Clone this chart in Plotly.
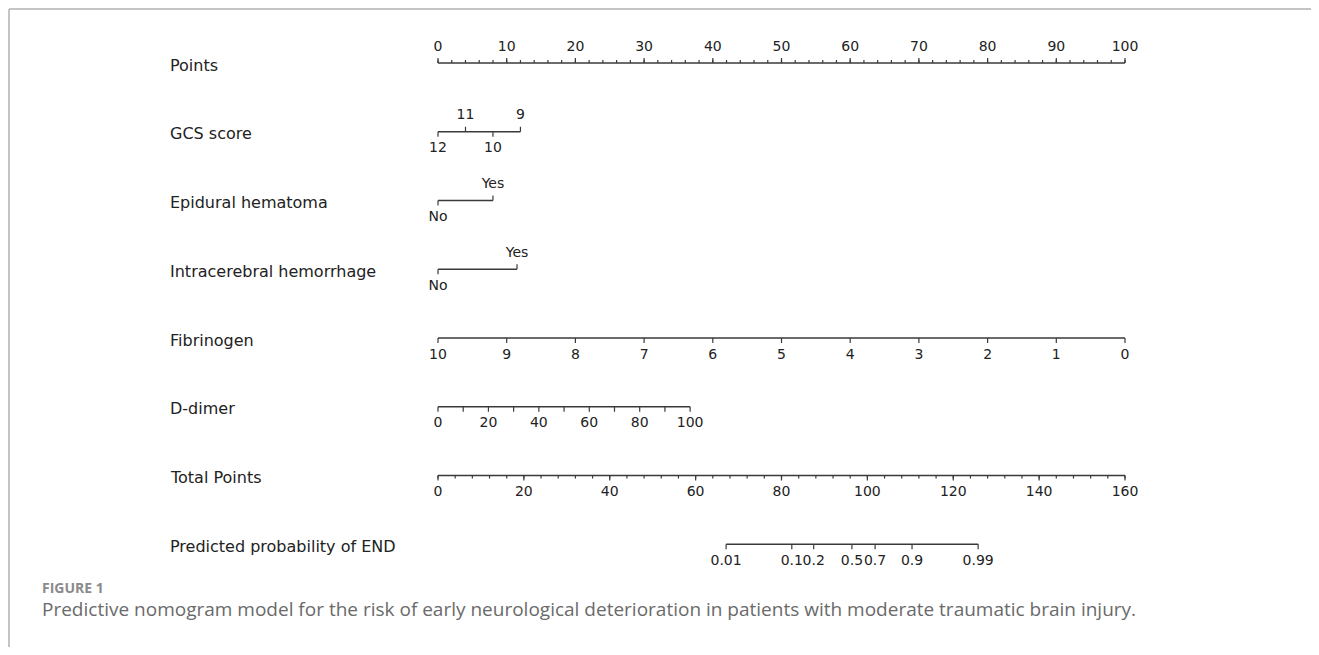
import plotly.graph_objects as go

# ---------------- data ----------------
row_labels = ["Points", "GCS score", "Epidural hematoma", "Intracerebral hemorrhage",
              "Fibrinogen", "D-dimer", "Total Points", "Predicted probability of END"]

points_major = [0, 10, 20, 30, 40, 50, 60, 70, 80, 90, 100]
points_minor = list(range(0, 101, 2))

gcs_labels = ["12", "11", "10", "9"]
gcs_points = [0, 4, 8, 12]
gcs_side = ["below", "above", "below", "above"]

edh_labels = ["No", "Yes"]
edh_points = [0, 8]
edh_side = ["below", "above"]

ich_labels = ["No", "Yes"]
ich_points = [0, 11.5]
ich_side = ["below", "above"]

fib_labels = ["10", "9", "8", "7", "6", "5", "4", "3", "2", "1", "0"]
fib_points = [0, 10, 20, 30, 40, 50, 60, 70, 80, 90, 100]

dd_values = [0, 10, 20, 30, 40, 50, 60, 70, 80, 90, 100]
dd_label_values = [0, 20, 40, 60, 80, 100]
dd_max_points = 36.7          # points assigned to D-dimer = 100

total_major = [0, 20, 40, 60, 80, 100, 120, 140, 160]
total_minor = list(range(0, 161, 4))

prob_labels = ["0.01", "0.1", "0.2", "0.5", "0.7", "0.9", "0.99"]
prob_total = [67.1, 82.4, 87.5, 96.4, 101.8, 110.4, 125.8]

caption_head = "FIGURE 1"
caption_text = ("Predictive nomogram model for the risk of early neurological deterioration "
                "in patients with moderate traumatic brain injury.")

# ---------------- layout constants ----------------
OFF = 8                      # page body margin compensation
W, H = 1319 - OFF, 655 - 2 * OFF
PX_PER_POINT = 6.87
PX_PER_TOTAL = 687 / 160
X0 = 438 - OFF
row_y = [63 - OFF + 68.75 * i for i in range(8)]
LINE_COLOR = "#3a3a3a"
TEXT_COLOR = "#222222"
FONT = "DejaVu Sans"
MAJOR_LEN, MINOR_LEN = 5, 3
LABEL_OFF = 16

fig = go.Figure()


def add_scale(xs, y, ticks, labels, label_x, sides, minor=None, axis="x"):
    """draw a nomogram scale: line, ticks pointing toward labels, text labels"""
    fig.add_trace(go.Scatter(x=[min(xs), max(xs)], y=[y, y], mode="lines",
                             line=dict(color=LINE_COLOR, width=1.4),
                             xaxis=axis, hoverinfo="skip", showlegend=False))
    tx, ty = [], []
    for t, s in zip(ticks, sides):
        d = -MAJOR_LEN if s == "above" else MAJOR_LEN
        tx += [t, t, None]
        ty += [y, y + d, None]
    if minor is not None:
        d = -MINOR_LEN if sides[0] == "above" else MINOR_LEN
        for t in minor:
            tx += [t, t, None]
            ty += [y, y + d, None]
    fig.add_trace(go.Scatter(x=tx, y=ty, mode="lines",
                             line=dict(color=LINE_COLOR, width=1.2),
                             xaxis=axis, hoverinfo="skip", showlegend=False))
    if len(sides) == len(labels):
        ly = [y - LABEL_OFF if s == "above" else y + LABEL_OFF + 1 for s in sides]
    else:
        ly = [y - LABEL_OFF if sides[0] == "above" else y + LABEL_OFF + 1] * len(labels)
    fig.add_trace(go.Scatter(x=list(label_x), y=ly, mode="text", text=labels,
                             textposition="middle center",
                             textfont=dict(family=FONT, size=14, color=TEXT_COLOR),
                             xaxis=axis, hoverinfo="skip", showlegend=False))


add_scale(points_major, row_y[0], points_major, [str(v) for v in points_major], points_major,
          ["above"] * len(points_major), minor=points_minor)
add_scale(gcs_points, row_y[1], gcs_points, gcs_labels, gcs_points, gcs_side)
add_scale(edh_points, row_y[2], edh_points, edh_labels, edh_points, edh_side)
add_scale(ich_points, row_y[3], ich_points, ich_labels, ich_points, ich_side)
add_scale(fib_points, row_y[4], fib_points, fib_labels, fib_points, ["below"] * len(fib_points))
dd_pts = [v / 100 * dd_max_points for v in dd_values]
dd_lab_pts = [v / 100 * dd_max_points for v in dd_label_values]
add_scale(dd_pts, row_y[5], dd_pts, [str(v) for v in dd_label_values], dd_lab_pts,
          ["below"] * len(dd_pts))
add_scale(total_major, row_y[6], total_major, [str(v) for v in total_major], total_major,
          ["below"] * len(total_major), minor=total_minor, axis="x2")
add_scale(prob_total, row_y[7], prob_total, prob_labels, prob_total,
          ["below"] * len(prob_total), axis="x2")

# row labels
for lab, y in zip(row_labels, row_y):
    fig.add_annotation(x=(168 - OFF - X0) / PX_PER_POINT, y=y + 2, xref="x", yref="y",
                       text=lab, showarrow=False, xanchor="left", yanchor="middle",
                       font=dict(family=FONT, size=16, color=TEXT_COLOR))

# caption
fig.add_annotation(x=(40 - OFF - X0) / PX_PER_POINT, y=587 - OFF, xref="x", yref="y",
                   text="<b>" + caption_head + "</b>",
                   showarrow=False, xanchor="left", yanchor="middle",
                   font=dict(family="Open Sans", size=14, color="#8a8a8a"))
fig.add_annotation(x=(40 - OFF - X0) / PX_PER_POINT, y=609 - OFF, xref="x", yref="y",
                   text=caption_text,
                   showarrow=False, xanchor="left", yanchor="middle",
                   font=dict(family="Open Sans", size=19, color="#6a6a6a"))

# frame (left and top border)
fig.add_shape(type="line", xref="paper", yref="paper", x0=1 / W, x1=1.0, y0=1 - 1 / H, y1=1 - 1 / H,
              line=dict(color="#c4c4c4", width=2))
fig.add_shape(type="line", xref="paper", yref="paper", x0=1 / W, x1=1 / W, y0=0, y1=1 - 1 / H,
              line=dict(color="#c4c4c4", width=2))

fig.update_layout(
    width=W, height=H,
    margin=dict(l=0, r=0, t=0, b=0),
    paper_bgcolor="white", plot_bgcolor="white",
    xaxis=dict(range=[-X0 / PX_PER_POINT, (W - X0) / PX_PER_POINT], visible=False, fixedrange=True),
    xaxis2=dict(range=[-X0 / PX_PER_TOTAL, (W - X0) / PX_PER_TOTAL], visible=False,
                overlaying="x", fixedrange=True),
    yaxis=dict(range=[H, 0], visible=False, fixedrange=True),
    showlegend=False,
)

fig.write_html("out.html")
